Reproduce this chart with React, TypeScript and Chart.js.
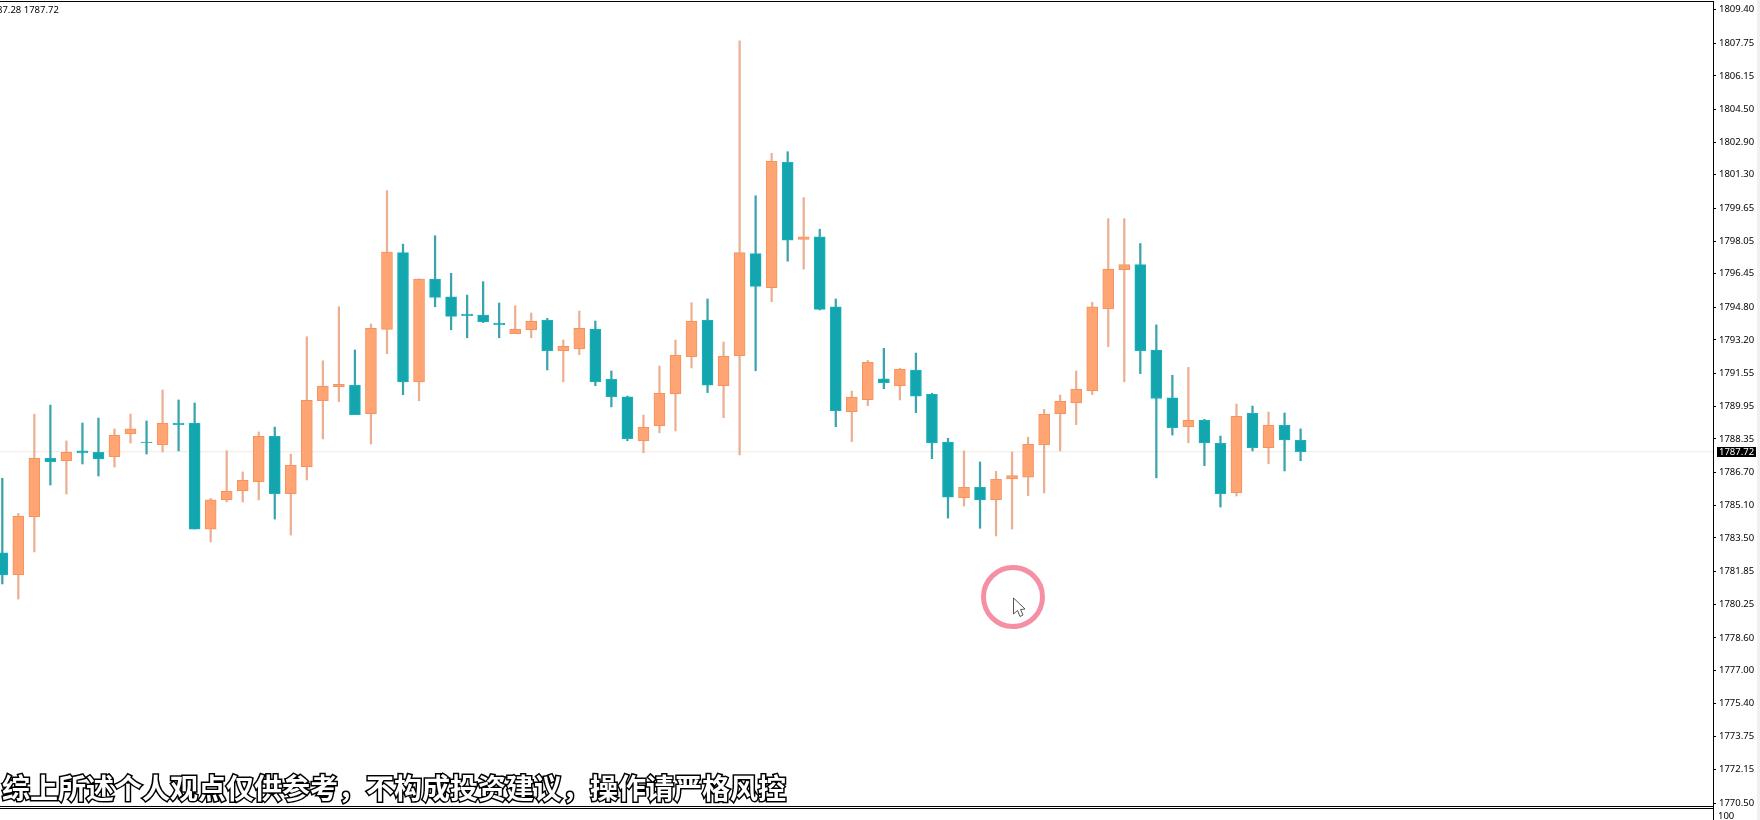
import React, { useEffect, useRef } from "react";
import Chart from "chart.js/auto";

const opens = [1782.77,1781.68,1784.54,1787.40,1787.28,1787.76,1787.69,1787.48,1788.61,1788.20,1788.07,1789.13,1789.13,1783.93,1785.36,1785.80,1786.25,1788.48,1785.66,1786.99,1790.22,1790.91,1790.98,1789.59,1793.72,1797.48,1791.15,1796.19,1795.31,1794.47,1794.42,1794.03,1793.51,1793.70,1794.18,1792.67,1792.76,1793.74,1791.27,1790.41,1788.25,1789.00,1790.57,1792.38,1794.18,1790.96,1792.43,1797.43,1795.76,1801.91,1798.13,1798.26,1794.82,1789.68,1790.27,1791.29,1790.96,1791.73,1790.54,1788.19,1785.47,1785.98,1785.37,1786.39,1786.48,1788.07,1789.59,1790.12,1790.71,1794.73,1796.65,1796.89,1792.71,1790.36,1788.95,1789.26,1788.13,1785.71,1789.61,1787.92,1789.02,1788.28];
const highs = [1786.42,1784.70,1789.56,1790.01,1788.25,1789.13,1789.37,1788.84,1789.57,1789.23,1790.75,1790.26,1790.11,1785.44,1787.77,1786.73,1788.69,1788.93,1787.61,1793.36,1792.18,1794.83,1792.71,1793.98,1800.52,1797.90,1796.20,1798.31,1796.47,1795.40,1796.06,1795.01,1794.88,1794.52,1794.26,1793.20,1794.62,1794.13,1791.68,1790.45,1789.52,1791.92,1793.20,1795.03,1795.21,1793.10,1807.86,1800.27,1802.35,1802.43,1800.18,1798.63,1795.21,1790.69,1792.20,1792.79,1791.81,1792.56,1790.59,1788.38,1787.76,1787.22,1786.76,1787.71,1788.43,1789.80,1790.50,1791.68,1795.05,1799.15,1799.15,1797.93,1793.94,1791.47,1791.86,1789.31,1788.49,1790.06,1789.96,1789.67,1789.62,1788.84];
const lows = [1781.24,1780.50,1782.81,1786.09,1785.65,1787.12,1786.53,1786.97,1788.15,1787.61,1787.71,1787.76,1783.93,1783.30,1785.26,1785.26,1785.36,1784.42,1783.64,1786.34,1788.35,1790.18,1789.54,1788.10,1792.53,1790.52,1790.22,1794.83,1793.70,1793.31,1794.05,1793.31,1793.51,1793.31,1791.73,1791.15,1792.48,1790.96,1789.92,1788.26,1787.67,1788.65,1788.74,1791.83,1790.62,1789.39,1787.56,1791.69,1795.08,1797.06,1796.67,1794.67,1788.95,1788.22,1789.98,1790.81,1790.26,1789.64,1787.38,1784.47,1785.06,1783.97,1783.59,1783.93,1785.57,1785.70,1787.76,1789.05,1790.52,1792.87,1791.15,1791.55,1786.44,1788.54,1788.16,1787.04,1785.01,1785.55,1787.76,1787.13,1786.78,1787.28];
const closes = [1781.68,1784.56,1787.40,1787.23,1787.69,1787.66,1787.37,1788.53,1788.84,1788.17,1789.12,1789.05,1783.93,1785.36,1785.78,1786.32,1788.48,1785.66,1787.05,1790.24,1790.93,1791.03,1789.54,1793.77,1797.51,1791.15,1796.19,1795.29,1794.36,1794.39,1794.10,1793.95,1793.74,1794.13,1792.67,1792.89,1793.77,1791.15,1790.42,1788.36,1788.92,1790.59,1792.45,1794.13,1790.99,1792.40,1797.48,1795.83,1801.96,1798.09,1798.26,1794.70,1789.73,1790.39,1792.11,1791.11,1791.76,1790.45,1788.15,1785.50,1785.98,1785.36,1786.37,1786.55,1788.09,1789.56,1790.19,1790.78,1794.82,1796.68,1796.89,1792.67,1790.33,1788.90,1789.26,1788.15,1785.66,1789.46,1787.92,1789.02,1788.30,1787.72];
const yTicks = [1809.40,1807.75,1806.15,1804.50,1802.90,1801.30,1799.65,1798.05,1796.45,1794.80,1793.20,1791.55,1789.95,1788.35,1786.70,1785.10,1783.50,1781.85,1780.25,1778.60,1777.00,1775.40,1773.75,1772.15,1770.50];
const currentPrice = 1787.72;
const headerText = "87.28 1787.72";
const subtitle = "综上所述个人观点仅供参考，不构成投资建议，操作请严格风控";
const volumePaneLabel = "100";

const UP_BODY = "#FFA473";
const UP_EDGE = "#F5925F";
const UP_WICK = "#EBAF92";
const DOWN_BODY = "#13A6AE";
const DOWN_EDGE = "#1BB3BB";
const DOWN_WICK = "#3AA3AC";
const AXIS_FONT = '9.5px "Noto Sans", sans-serif';

const isUp = (i: number) => closes[i] >= opens[i];

const framePlugin = {
  id: "frame",
  afterDraw(chart: any) {
    const { ctx } = chart;
    const right = Math.round(chart.chartArea.right);
    ctx.save();
    ctx.fillStyle = "#000";
    ctx.fillRect(0, 1, right, 1);
    ctx.fillRect(right, 1, 1, 819);
    ctx.fillRect(0, 806, right, 1);
    ctx.fillRect(0, 808, right, 1);
    ctx.fillStyle = "#F0F0F0";
    ctx.fillRect(1757, 0, 3, 820);
    ctx.font = AXIS_FONT;
    ctx.textBaseline = "middle";
    ctx.textAlign = "left";
    ctx.fillStyle = "#000";
    ctx.fillText(headerText, -3, 10);
    ctx.fillText(volumePaneLabel, 1718, 816);
    const y = chart.scales.y.getPixelForValue(currentPrice);
    ctx.fillStyle = "#000";
    ctx.fillRect(1717, Math.round(y) - 5, 39, 10);
    ctx.fillStyle = "#FFF";
    ctx.fillText(currentPrice.toFixed(2), 1719, Math.round(y));
    ctx.restore();
  },
};

export default function App() {
  const ref = useRef<HTMLCanvasElement>(null);
  useEffect(() => {
    const idx = opens.map((_, i) => i);
    const chart = new Chart(ref.current!, {
      type: "bar",
      data: {
        datasets: [
          {
            type: "bar",
            order: 1,
            grouped: false,
            barThickness: 11,
            borderWidth: 1,
            borderSkipped: false,
            data: idx.map((i) => ({ x: i, y: [opens[i], closes[i]] })),
            backgroundColor: idx.map((i) => (isUp(i) ? UP_BODY : DOWN_BODY)),
            borderColor: idx.map((i) => (isUp(i) ? UP_EDGE : DOWN_EDGE)),
          },
          {
            type: "bar",
            order: 2,
            grouped: false,
            barThickness: 1.6,
            borderWidth: 0,
            data: idx.map((i) => ({ x: i, y: [lows[i], highs[i]] })),
            backgroundColor: idx.map((i) => (isUp(i) ? UP_WICK : DOWN_WICK)),
          },
          {
            type: "line",
            order: 3,
            data: [
              { x: -1, y: currentPrice },
              { x: 108, y: currentPrice },
            ],
            borderColor: "#F3E9DF",
            borderWidth: 1,
            pointRadius: 0,
          },
        ],
      } as any,
      options: {
        responsive: false,
        animation: false,
        layout: { padding: { top: 2, bottom: 13, left: 0, right: 0 } },
        plugins: { legend: { display: false }, tooltip: { enabled: false } },
        scales: {
          x: { type: "linear", display: false, offset: false, min: -0.143, max: 106.73, grid: { display: false } },
          y: {
            type: "linear",
            position: "right",
            min: 1770.306,
            max: 1809.768,
            border: { display: false },
            grid: { drawOnChartArea: false, drawTicks: true, tickLength: 3, color: "#000" },
            ticks: {
              autoSkip: false,
              padding: 3,
              color: "#000",
              font: { family: '"Noto Sans", sans-serif', size: 9.5 },
              callback: (v: any) => Number(v).toFixed(2),
            },
            afterBuildTicks: (s: any) => {
              s.ticks = yTicks.map((value) => ({ value }));
            },
            afterFit: (s: any) => {
              s.width = 47;
              s.paddingTop = 0;
              s.paddingBottom = 0;
            },
          },
        },
      } as any,
      plugins: [framePlugin],
    });
    return () => chart.destroy();
  }, []);

  return (
    <div style={{ position: "fixed", left: 0, top: 0, width: 1760, height: 820, overflow: "hidden", background: "#fff" }}>
      <canvas ref={ref} width={1760} height={820} style={{ display: "block" }} />
      <div
        style={{
          position: "absolute",
          left: 2,
          top: 766,
          fontFamily: '"Noto Sans CJK SC", sans-serif',
          fontSize: 28,
          fontWeight: 700,
          lineHeight: "42px",
          whiteSpace: "nowrap",
          color: "#fff",
          WebkitTextStroke: "3px #000",
          paintOrder: "stroke fill",
        } as any}
      >
        {subtitle}
      </div>
      <svg width={1760} height={820} style={{ position: "absolute", left: 0, top: 0, pointerEvents: "none" }}>
        <circle cx={1013} cy={597} r={29.5} fill="none" stroke="#F58FA3" strokeWidth={5} />
        <path
          d="M1013.5 598 L1013.5 614 L1017.5 610.5 L1020 616.5 L1023 615 L1020.5 609.5 L1025 609 Z"
          fill="#fff"
          stroke="#555"
          strokeWidth={1}
        />
      </svg>
    </div>
  );
}
